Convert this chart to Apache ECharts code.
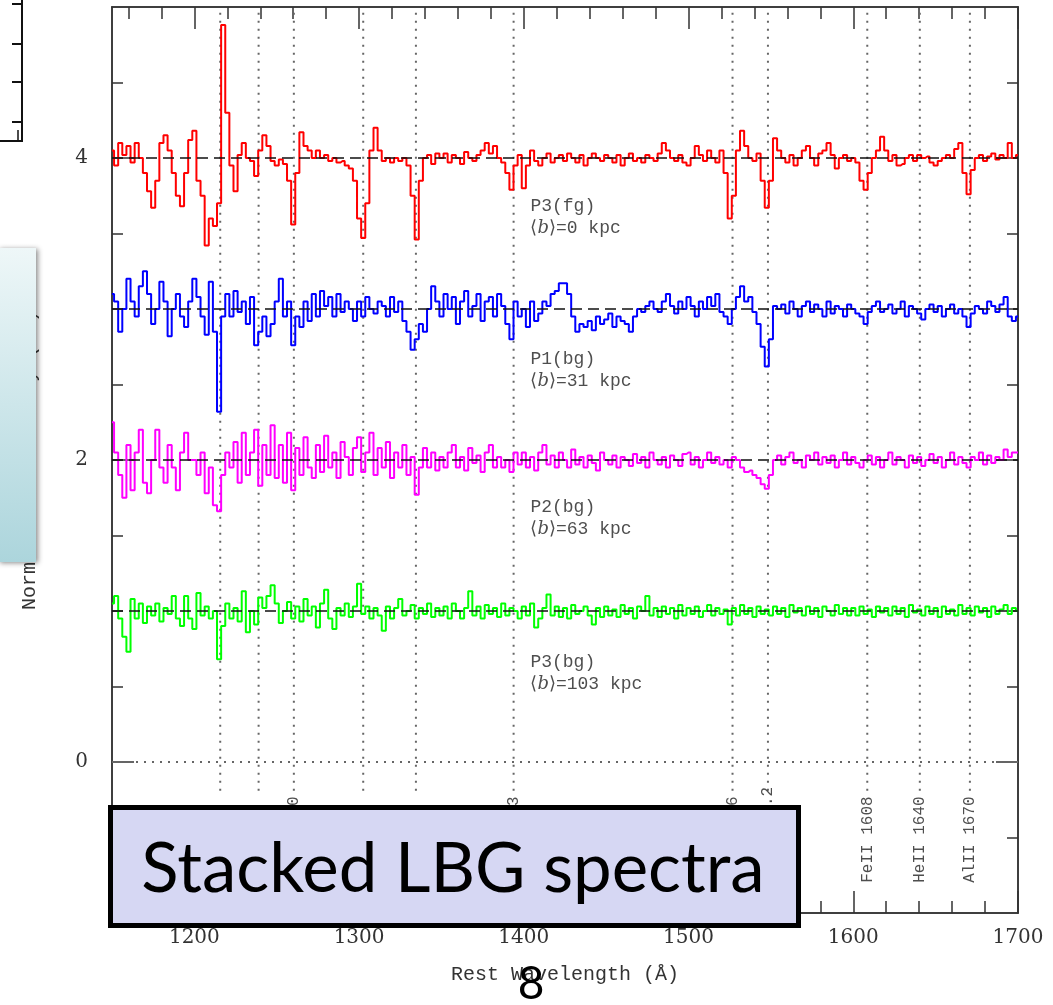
<!DOCTYPE html>
<html><head><meta charset="utf-8">
<script src="https://cdn.jsdelivr.net/npm/echarts@6/dist/echarts.min.js"></script>
<style>html,body{margin:0;padding:0;background:#fff}#c{width:1053px;height:1005px}</style>
</head><body><div id="c"></div>
<script>
// Wavelength grid (Å): start and step of the sampled spectra
const waveStart = 1150, waveStep = 2.5;

// P3(fg), <b>=0 kpc  (offset +3)
const fluxP3fg = [
 4.05,3.95,4.10,4.02,4.08,3.97,4.10,4.00,3.90,3.78,
 3.67,3.85,4.10,4.15,4.05,3.90,3.75,3.68,3.90,4.12,
 4.18,3.85,3.75,3.42,3.60,3.55,3.70,4.88,4.30,3.95,
 3.78,4.02,4.10,4.00,3.98,3.88,4.05,4.15,4.08,3.98,
 3.95,3.99,3.96,3.85,3.56,3.90,4.17,4.08,4.05,4.00,
 4.05,4.00,4.02,3.98,4.00,3.97,3.98,3.95,3.93,3.85,
 3.60,3.47,3.70,4.05,4.20,4.05,3.98,4.00,3.97,4.00,
 3.98,4.00,3.95,3.75,3.46,3.85,4.00,4.02,3.96,4.03,
 4.00,4.03,3.97,4.02,4.00,3.96,4.04,4.00,3.98,4.02,
 4.05,4.10,4.03,4.08,4.00,3.97,3.90,3.79,3.95,4.02,
 3.80,3.95,4.05,3.98,3.95,4.00,4.03,3.97,4.00,4.02,
 3.98,4.03,4.00,3.97,4.02,3.95,4.00,4.03,4.00,3.98,
 4.02,4.00,3.97,4.02,3.95,4.00,4.03,3.98,4.00,3.97,
 4.02,4.00,3.98,4.03,4.10,4.05,4.00,3.98,4.02,3.97,
 3.95,4.00,4.08,4.02,3.98,4.05,4.00,3.97,4.05,3.90,
 3.60,3.75,4.05,4.18,4.08,4.00,3.98,4.03,3.85,3.67,
 3.85,4.13,4.05,4.00,3.97,4.02,3.95,4.00,4.05,4.08,
 4.00,3.95,4.03,4.05,4.10,4.02,3.93,4.00,4.02,3.98,
 4.00,3.97,3.85,3.79,3.90,4.00,4.05,4.14,4.05,3.98,
 4.02,3.95,3.96,4.00,4.02,3.98,4.02,4.00,4.01,3.97,
 3.95,3.98,4.00,4.02,4.00,4.06,4.10,3.90,3.76,3.92,
 4.00,4.02,3.98,4.01,4.03,3.99,4.02,4.00,4.10,4.00,
 4.02
];
// P1(bg), <b>=31 kpc (offset +2)
const fluxP1bg = [
 3.10,3.05,2.85,3.00,3.20,3.05,2.95,3.15,3.25,3.10,
 2.90,3.00,3.18,3.05,2.82,3.00,3.10,2.95,2.88,3.05,
 3.20,3.08,2.95,2.83,3.18,2.85,2.32,2.95,3.10,2.95,
 3.12,2.98,3.05,2.90,3.08,2.76,2.85,2.95,2.82,2.90,
 3.05,3.20,2.95,3.05,2.76,2.95,2.88,3.05,2.92,3.10,
 2.95,3.12,3.02,3.08,2.95,3.10,2.98,3.05,3.00,2.92,
 3.05,2.95,3.08,3.00,2.97,3.05,3.02,2.95,3.08,2.98,
 3.05,2.92,2.85,2.73,2.80,2.90,2.85,3.00,3.15,3.05,
 2.95,3.10,3.00,3.08,2.90,3.05,3.12,2.95,3.02,3.10,
 2.92,3.05,3.08,2.95,3.10,3.02,2.90,2.80,3.05,2.95,
 3.00,2.88,3.05,2.92,2.97,3.05,3.02,3.10,3.12,3.17,
 3.17,3.10,2.95,2.85,2.90,2.88,2.92,2.86,2.95,2.90,
 2.93,2.97,2.88,2.95,2.92,2.90,2.85,2.95,3.00,2.98,
 3.02,3.05,3.00,2.98,3.05,3.10,3.02,2.97,3.05,3.00,
 3.08,3.02,2.95,3.05,3.00,3.08,3.02,3.10,2.98,2.95,
 2.90,3.00,3.08,3.15,3.05,3.08,2.98,2.90,2.75,2.62,
 2.80,3.02,3.00,3.03,2.97,3.05,3.00,2.95,3.02,3.05,
 2.98,3.03,3.00,2.95,3.05,2.97,3.02,3.00,2.95,3.03,
 3.00,2.97,2.95,2.90,2.98,3.02,3.05,2.98,3.00,3.03,
 2.97,3.00,3.05,2.95,3.02,3.00,2.97,2.93,3.00,3.03,
 2.98,3.02,2.95,3.00,3.03,2.97,3.00,2.95,2.88,2.97,
 3.02,3.00,2.97,3.05,3.02,2.98,3.03,3.08,2.95,2.92,
 2.95
];
// P2(bg), <b>=63 kpc (offset +1)
const fluxP2bg = [
 2.25,2.05,1.90,1.75,2.10,1.80,2.05,2.20,1.85,1.78,
 2.00,2.20,1.95,1.85,2.10,1.95,1.80,2.05,2.18,2.00,
 2.00,1.90,2.05,1.78,1.95,1.70,1.66,1.90,2.05,1.95,
 2.12,1.85,2.18,1.90,2.05,2.20,1.83,2.10,1.90,2.23,
 1.88,2.10,1.85,2.18,1.80,2.08,1.90,2.15,1.95,1.88,
 2.10,1.92,2.16,1.95,2.05,1.88,2.12,2.02,1.90,2.08,
 2.15,1.92,2.05,2.18,1.90,2.08,1.95,2.12,1.88,2.05,
 1.95,2.10,1.90,2.02,1.77,1.95,2.08,1.95,2.05,1.93,
 2.02,1.95,2.05,2.10,1.95,2.02,1.93,2.08,1.98,2.03,
 1.92,2.05,2.10,1.95,2.02,1.95,2.00,1.92,2.05,1.97,
 2.05,1.95,2.02,1.93,2.05,2.10,1.97,2.03,1.95,2.05,
 2.00,1.95,2.07,1.97,2.02,1.95,2.03,1.98,1.93,2.05,
 2.00,1.97,2.03,1.95,2.02,2.00,1.96,2.04,1.98,2.02,
 1.95,2.05,2.00,1.97,2.02,1.95,2.03,2.00,1.96,2.04,
 2.05,1.97,2.02,1.95,2.00,2.05,1.98,2.02,1.97,2.00,
 1.95,2.02,2.00,1.95,1.92,1.93,1.90,1.88,1.84,1.81,
 1.90,2.00,2.03,1.97,2.02,2.05,1.98,2.00,1.95,2.03,
 2.00,2.05,1.97,2.02,1.98,2.03,1.95,2.00,2.05,1.97,
 2.02,1.98,1.95,2.00,2.03,1.97,2.02,1.95,2.00,2.05,
 1.97,2.02,2.00,1.95,2.03,1.98,2.02,1.96,2.00,2.04,
 1.98,2.02,1.95,2.00,2.05,1.97,2.02,1.98,1.95,2.02,
 2.00,2.05,1.97,2.03,1.98,2.02,2.00,2.07,2.02,2.05,
 2.05
];
// P3(bg), <b>=103 kpc (offset 0)
const fluxP3bg = [
 1.05,1.10,0.95,0.83,0.73,1.08,0.95,1.05,0.92,1.03,
 0.97,1.05,0.93,1.02,0.98,1.10,0.95,0.90,1.10,0.95,
 0.88,1.12,0.97,1.03,0.95,1.00,0.68,0.90,1.05,0.95,
 1.02,0.93,1.13,0.86,1.00,0.91,1.09,1.02,1.10,1.17,
 1.05,0.92,1.00,1.06,0.95,1.03,0.93,1.08,0.97,1.03,
 0.89,1.05,1.14,0.95,0.88,1.02,0.97,1.05,0.96,1.03,
 1.18,0.98,1.03,0.95,1.02,0.97,0.87,1.03,0.95,1.02,
 1.08,0.97,1.00,1.04,0.95,1.02,0.98,1.05,0.96,1.02,
 0.97,1.03,0.95,1.05,1.00,0.95,1.02,1.13,0.97,1.03,
 0.95,1.04,0.98,1.02,0.96,1.05,0.97,1.02,1.00,0.95,
 1.03,0.97,1.05,0.89,0.95,1.02,1.11,0.97,1.03,0.96,
 1.02,0.95,1.04,0.98,1.00,1.03,0.97,0.91,1.02,0.96,
 1.03,0.97,1.01,0.96,1.04,0.98,1.02,0.95,1.03,1.00,
 1.10,0.97,1.02,0.96,1.03,0.98,1.02,0.95,1.04,0.97,
 1.02,0.98,1.03,0.96,1.00,1.04,0.97,1.02,0.98,1.01,
 0.91,1.02,0.97,1.04,0.98,1.02,0.96,1.03,0.98,1.01,
 0.97,1.03,0.98,1.02,0.96,1.04,0.99,1.02,0.97,1.03,
 0.98,1.02,0.96,1.03,1.00,0.97,1.04,0.98,1.02,0.97,
 1.02,0.97,1.03,0.98,1.01,0.96,1.03,0.99,1.02,0.97,
 1.03,0.98,1.02,0.96,1.04,0.99,1.01,0.97,1.03,0.98,
 1.02,0.96,1.03,0.98,1.01,0.97,1.04,0.98,1.02,0.97,
 1.03,0.99,1.02,0.96,1.03,0.98,1.01,1.04,0.98,1.02,
 1.00
];

const continuumLevels = [1, 2, 3, 4];
const lineWaves = [1215.7, 1239, 1260.4, 1302.5, 1334.5, 1393.8, 1526.7, 1548.2, 1608.5, 1640.4, 1670.8];
const lineNames = ['Lyα 1216', 'NV 1240', 'SiII 1260', 'OI 1302', 'CII 1334', 'SiIV 1393', 'SiII 1526', 'CIV 1548.2', 'FeII 1608', 'HeII 1640', 'AlII 1670'];
const lineLabelBase = -0.8, lineTop = 5, lineBottom = -0.19;

const specNames = ['P3(fg)', 'P1(bg)', 'P2(bg)', 'P3(bg)'];
const specImpact = ['0', '31', '63', '103'];
const specLabelWave = 1404;
const specLabelY = [3.61, 2.595, 1.615, 0.585];
const specColors = ['#ff0000', '#0000ff', '#ff00ff', '#00ff00'];

const xMajorTicks = [1200, 1300, 1400, 1500, 1600, 1700];
const xMinorTicks = [1160,1180,1220,1240,1260,1280,1320,1340,1360,1380,1420,1440,1460,1480,1520,1540,1560,1580,1620,1640,1660,1680];
const yMajorTicks = [0, 2, 4];
const yMinorTicks = [-0.5, 0.5, 1, 1.5, 2.5, 3, 3.5, 4.5];

const toPts = arr => arr.map((v, i) => [waveStart + waveStep * i, v]);
const spectra = [fluxP3fg, fluxP1bg, fluxP2bg, fluxP3bg];

const axisCol = '#333';
function xAx(pos, ticks, len, withLabel) {
  return {
    type: 'value', position: pos, min: 1150, max: 1700,
    axisLine: { show: true, onZero: false, lineStyle: { color: axisCol, width: 1.5 } },
    axisTick: { show: true, inside: true, length: len, customValues: ticks, lineStyle: { color: axisCol, width: 1.5 } },
    axisLabel: withLabel ? { show: true, customValues: xMajorTicks, formatter: v => String(v), fontFamily: 'DejaVu Serif', fontSize: 20, color: '#333', margin: 15 } : { show: false },
    splitLine: { show: false },
    name: withLabel ? 'Rest Wavelength (Å)' : '',
    nameLocation: 'middle', nameGap: 52,
    nameTextStyle: { fontFamily: 'Liberation Mono', fontSize: 20, color: '#333' }
  };
}
function yAx(pos, ticks, len, withLabel) {
  return {
    type: 'value', position: pos, min: -1, max: 5,
    axisLine: { show: true, onZero: false, lineStyle: { color: axisCol, width: 1.5 } },
    axisTick: { show: true, inside: true, length: len, customValues: ticks, lineStyle: { color: axisCol, width: 1.5 } },
    axisLabel: withLabel ? { show: true, customValues: yMajorTicks, formatter: v => String(v), fontFamily: 'DejaVu Serif', fontSize: 20, color: '#333', margin: 24 } : { show: false },
    splitLine: { show: false },
    name: withLabel ? 'Normalized Intensity (Fλ)' : '',
    nameLocation: 'middle', nameGap: 72,
    nameTextStyle: { fontFamily: 'Liberation Mono', fontSize: 20, color: '#333' }
  };
}

const series = [];
lineWaves.forEach(w => {
  series.push({ type: 'line', data: [[w, lineBottom], [w, lineTop]], symbol: 'none', silent: true,
    lineStyle: { color: '#666', width: 2, type: [2, 6] }, z: 1 });
});
series.push({ type: 'line', data: [[1150, 0], [1700, 0]], symbol: 'none', silent: true,
  lineStyle: { color: '#666', width: 2, type: [2, 6] }, z: 1 });
spectra.forEach((arr, k) => {
  series.push({ type: 'line', data: toPts(arr), step: 'middle', symbol: 'none',
    lineStyle: { color: specColors[k], width: 2 }, z: 3 });
});
continuumLevels.forEach(l => {
  series.push({ type: 'line', data: [[1150, l], [1700, l]], symbol: 'none', silent: true,
    lineStyle: { color: '#111', width: 1.4, type: [11, 6] }, z: 5 });
});
series.push({ type: 'scatter', symbolSize: 1, itemStyle: { color: 'rgba(0,0,0,0)' }, z: 6,
  data: lineWaves.map((w, i) => ({ value: [w, lineLabelBase], name: lineNames[i] })),
  label: { show: true, position: 'inside', rotate: 90, align: 'left', verticalAlign: 'middle',
    formatter: p => p.name, fontFamily: 'Liberation Mono', fontSize: 16, color: '#222' } });
series.push({ type: 'scatter', symbolSize: 1, itemStyle: { color: 'rgba(0,0,0,0)' }, z: 6,
  data: specNames.map((n, i) => ({ value: [specLabelWave, specLabelY[i]], name: n })),
  label: { show: true, position: 'inside', align: 'left', verticalAlign: 'middle',
    formatter: p => '{t|' + p.name + '}\n{t|⟨}{i|b}{t|⟩=' + specImpact[p.dataIndex] + ' kpc}',
    rich: {
      t: { fontFamily: 'Liberation Mono', fontSize: 18, color: '#222', lineHeight: 22 },
      i: { fontFamily: 'DejaVu Serif', fontStyle: 'italic', fontSize: 18, color: '#222', lineHeight: 22 }
    } } });

const chart = echarts.init(document.getElementById('c'), null, { renderer: 'canvas' });
chart.setOption({
  animation: false,
  backgroundColor: '#fff',
  grid: { left: 112, right: 35, top: 7, bottom: 92, containLabel: false },
  xAxis: [xAx('bottom', xMajorTicks, 22, true), xAx('bottom', xMinorTicks, 12, false),
          xAx('top', xMajorTicks, 22, false), xAx('top', xMinorTicks, 12, false)],
  yAxis: [yAx('left', yMajorTicks, 22, true), yAx('left', yMinorTicks, 11, false),
          yAx('right', yMajorTicks, 22, false), yAx('right', yMinorTicks, 11, false)],
  series: series,
  graphic: [
    { type: 'polyline', z: 100, shape: { points: [[22, 0], [22, 141], [0, 141]] }, style: { stroke: '#111', lineWidth: 2, fill: null } },
    { type: 'line', z: 100, shape: { x1: 12, y1: 4, x2: 22, y2: 4 }, style: { stroke: '#111', lineWidth: 2 } },
    { type: 'line', z: 100, shape: { x1: 12, y1: 44, x2: 22, y2: 44 }, style: { stroke: '#111', lineWidth: 2 } },
    { type: 'line', z: 100, shape: { x1: 12, y1: 82, x2: 22, y2: 82 }, style: { stroke: '#111', lineWidth: 2 } },
    { type: 'line', z: 100, shape: { x1: 12, y1: 122, x2: 22, y2: 122 }, style: { stroke: '#111', lineWidth: 2 } },
    { type: 'line', z: 100, shape: { x1: 18, y1: 130, x2: 18, y2: 141 }, style: { stroke: '#111', lineWidth: 1.5 } },
    { type: 'rect', z: 100, shape: { x: -2, y: 248, width: 38, height: 314 },
      style: { fill: new echarts.graphic.LinearGradient(0, 0, 0, 1, [{ offset: 0, color: '#eef7f8' }, { offset: 1, color: '#acd5dc' }]),
        shadowBlur: 5, shadowColor: 'rgba(0,0,0,0.45)', shadowOffsetX: 2, shadowOffsetY: 1 } },
    { type: 'rect', z: 110, shape: { x: 110.5, y: 807.5, width: 688, height: 118 },
      style: { fill: '#d6d7f3', stroke: '#000', lineWidth: 5 } },
    { type: 'text', z: 111, style: { x: 453, y: 870, text: 'Stacked LBG spectra', align: 'center', verticalAlign: 'middle',
      font: '69px Lato', fill: '#000' } },
    { type: 'text', z: 111, style: { x: 531, y: 984, text: '8', align: 'center', verticalAlign: 'middle',
      font: '46px Lato', fill: '#000' } }
  ]
});
</script>
</body></html>
